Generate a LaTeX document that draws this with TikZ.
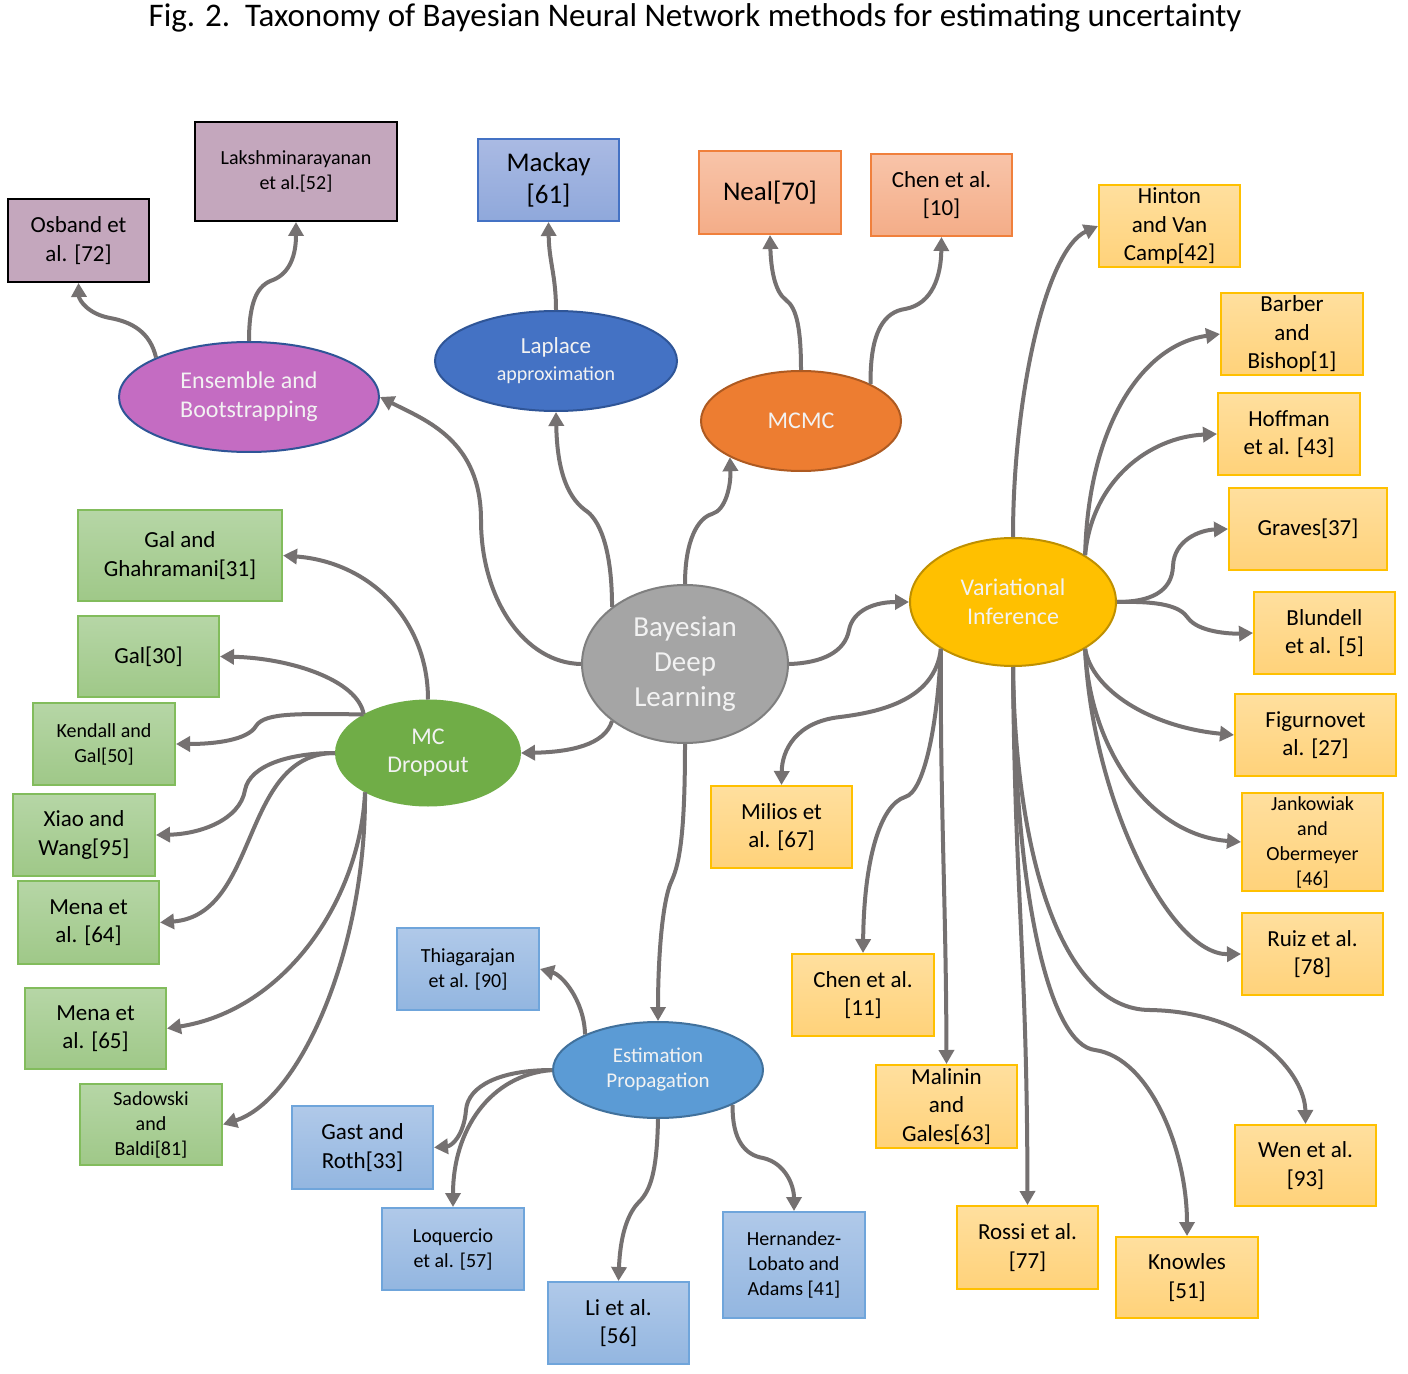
\documentclass[tikz,border=0pt]{standalone}
\usepackage{fontspec}
\setmainfont{Carlito}
\usetikzlibrary{arrows.meta,shapes.geometric}
\definecolor{arrowgray}{HTML}{757171}
\definecolor{bdlfill}{HTML}{A5A5A5}
\definecolor{bdldraw}{HTML}{7F7F7F}
\definecolor{ensfill}{HTML}{C46CC2}
\definecolor{ensdraw}{HTML}{2F5597}
\definecolor{lapfill}{HTML}{4472C4}
\definecolor{lapdraw}{HTML}{2F5597}
\definecolor{mcmcfill}{HTML}{ED7D31}
\definecolor{mcmcdraw}{HTML}{AE5A21}
\definecolor{vifill}{HTML}{FFC000}
\definecolor{vidraw}{HTML}{BF9000}
\definecolor{mcdfill}{HTML}{70AD47}
\definecolor{epfill}{HTML}{5B9BD5}
\definecolor{epdraw}{HTML}{41719C}
\definecolor{ellText}{HTML}{F2F2F2}
\definecolor{pfill}{HTML}{C4A7BD}
\definecolor{mactop}{HTML}{AABAE3}
\definecolor{macbot}{HTML}{8FA8DB}
\definecolor{saltop}{HTML}{F8C4A9}
\definecolor{salbot}{HTML}{F4AD88}
\definecolor{saldraw}{HTML}{F0803C}
\definecolor{yeltop}{HTML}{FFDF9E}
\definecolor{yelbot}{HTML}{FFD27A}
\definecolor{yeldraw}{HTML}{FFC000}
\definecolor{grntop}{HTML}{B6D6A6}
\definecolor{grnbot}{HTML}{9FC888}
\definecolor{grndraw}{HTML}{82BC5C}
\definecolor{blutop}{HTML}{B0C9E9}
\definecolor{blubot}{HTML}{93B6E0}
\definecolor{bludraw}{HTML}{6FA5DB}
\begin{document}
\begin{tikzpicture}[x=0.5pt,y=-0.5pt,
  conn/.style={draw=arrowgray,line width=2pt,-{Triangle[length=7pt,width=7.5pt]}},
  ell/.style={ellipse,inner sep=0pt,align=center,text=ellText,line width=1pt,font=\fontsize{12}{14.5}\selectfont},
  box/.style={rectangle,inner sep=0pt,align=center,line width=1pt,text=black,font=\fontsize{11.5}{14.25}\selectfont},
  sz/.style 2 args={minimum width=#1pt,minimum height=#2pt},
  sm/.style={font=\fontsize{10}{12.5}\selectfont},
  lg/.style={font=\fontsize{13.5}{16}\selectfont},
  pbox/.style={box,fill=pfill,draw=black},
  mbox/.style={box,top color=mactop,bottom color=macbot,draw=lapfill},
  sbox/.style={box,top color=saltop,bottom color=salbot,draw=saldraw},
  ybox/.style={box,top color=yeltop,bottom color=yelbot,draw=yeldraw},
  gbox/.style={box,top color=grntop,bottom color=grnbot,draw=grndraw},
  bbox/.style={box,top color=blutop,bottom color=blubot,draw=bludraw}
]
\fill[white] (0,0) rectangle (1408,1374);
\useasboundingbox (0,0) rectangle (1408,1374);

\node[font=\fontsize{16.5}{19}\selectfont] (cap) at (695,18) {Fig. 2.\ \ Taxonomy of Bayesian Neural Network methods for estimating uncertainty};

% ellipses
\node[ell,fill=bdlfill,draw=bdldraw,minimum width=103pt,minimum height=79pt,font=\fontsize{14.5}{17.5}\selectfont] (bdl) at (685,664) {Bayesian\\Deep\\Learning};
\node[ell,fill=ensfill,draw=ensdraw,minimum width=130pt,minimum height=55pt] (ens) at (249,397) {Ensemble and\\Bootstrapping};
\node[ell,fill=lapfill,draw=lapdraw,minimum width=121pt,minimum height=50pt,font=\fontsize{10}{13.5}\selectfont] (lap) at (556,361) {{\fontsize{11.5}{13.5}\selectfont Laplace}\\approximation};
\node[ell,fill=mcmcfill,draw=mcmcdraw,minimum width=100pt,minimum height=50pt] (mcmc) at (801,421) {MCMC};
\node[ell,fill=vifill,draw=vidraw,minimum width=103pt,minimum height=64pt] (vi) at (1013,602) {Variational\\Inference};
\node[ell,fill=mcdfill,draw=mcdfill,minimum width=92pt,minimum height=52.5pt,font=\fontsize{12}{14}\selectfont] (mcd) at (428,753) {MC\\Dropout};
\node[ell,fill=epfill,draw=epdraw,minimum width=105pt,minimum height=48pt,font=\fontsize{10.5}{12.5}\selectfont] (ep) at (658,1070) {Estimation\\Propagation};

% purple boxes
\node[pbox,sz={70.5}{41.5}] (osb) at (78.5,240.5) {Osband et\\al. [72]};
\node[pbox,sm,sz={101}{49.5}] (lak) at (296,171.5) {Lakshminarayanan\\et al.[52]};
% mackay
\node[mbox,lg,sz={70.5}{41}] (mac) at (548.5,180) {Mackay\\{}[61]};
% salmon
\node[sbox,lg,sz={71}{41.5}] (neal) at (770,192.5) {Neal[70]};
\node[sbox,sz={70.5}{41}] (che10) at (941.5,195) {Chen et al.\\{}[10]};
% yellow
\node[ybox,sz={70.5}{41}] (hin) at (1169.5,226) {Hinton\\and Van\\Camp[42]};
\node[ybox,sz={71}{41}] (bar) at (1292,334) {Barber\\and\\Bishop[1]};
\node[ybox,sz={71}{41}] (hof) at (1289,434) {Hoffman\\et al. [43]};
\node[ybox,sz={79}{41}] (gra) at (1308,529) {Graves[37]};
\node[ybox,sz={70.5}{41}] (blu) at (1324.5,633) {Blundell\\et al. [5]};
\node[ybox,sz={80.5}{41}] (fig) at (1315.5,735) {Figurnovet\\al. [27]};
\node[ybox,sm,sz={70.5}{49}] (jan) at (1312.5,842) {Jankowiak\\and\\Obermeyer\\{}[46]};
\node[ybox,sz={70.5}{41}] (rui) at (1312.5,954) {Ruiz et al.\\{}[78]};
\node[ybox,sz={70.5}{41}] (mil) at (781.5,827) {Milios et\\al. [67]};
\node[ybox,sz={71}{41}] (che11) at (863,995) {Chen et al.\\{}[11]};
\node[ybox,sz={70.5}{41.5}] (mal) at (946.5,1106.5) {Malinin\\and\\Gales[63]};
\node[ybox,sz={70.5}{41.5}] (ros) at (1027.5,1247.5) {Rossi et al.\\{}[77]};
\node[ybox,sz={71}{40.5}] (kno) at (1187,1277.5) {Knowles\\{}[51]};
\node[ybox,sz={70.5}{40.5}] (wen) at (1305.5,1165.5) {Wen et al.\\{}[93]};
% green
\node[gbox,sz={102}{45.5}] (gg) at (180,555.5) {Gal and\\Ghahramani[31]};
\node[gbox,sz={70.5}{40.5}] (gal) at (148.5,656.5) {Gal[30]};
\node[gbox,sm,sz={71}{41}] (ken) at (104,744) {Kendall and\\Gal[50]};
\node[gbox,sz={71}{41}] (xia) at (84,835) {Xiao and\\Wang[95]};
\node[gbox,sz={70.5}{41.5}] (m64) at (88.5,922.5) {Mena et\\al. [64]};
\node[gbox,sz={70.5}{40.5}] (m65) at (95.5,1028.5) {Mena et\\al. [65]};
\node[gbox,sm,sz={71}{40.5}] (sad) at (151,1124.5) {Sadowski\\and\\Baldi[81]};
% light blue
\node[bbox,sm,sz={71}{41}] (thi) at (468,969) {Thiagarajan\\et al. [90]};
\node[bbox,sz={70.5}{41.5}] (gas) at (362.5,1147.5) {Gast and\\Roth[33]};
\node[bbox,sm,sz={71}{41}] (loq) at (453,1249) {Loquercio\\et al. [57]};
\node[bbox,sz={70.5}{41}] (li) at (618.5,1323) {Li et al.\\{}[56]};
\node[bbox,sm,sz={71}{53}] (her) at (794,1265) {Hernandez-\\Lobato and\\Adams [41]};

% connectors from BDL
\draw[conn] (bdl.west) .. controls (525,663) and (481,600) .. (481,520) .. controls (481,440) and (425,420) .. (ens.east);
\draw[conn] (bdl.142) .. controls (612,545) and (598,518) .. (585,510) .. controls (565,495) and (557,465) .. (lap.south);
\draw[conn] (bdl.north) .. controls (685,540) and (698,518) .. (712,514) .. controls (726,510) and (731,485) .. (mcmc.207);
\draw[conn] (bdl.east) .. controls (822,663) and (845,652) .. (849,630) .. controls (853,610) and (875,602) .. (vi.west);
\draw[conn] (bdl.218) .. controls (605,745) and (570,752) .. (mcd.east);
\draw[conn] (bdl.south) .. controls (685,830) and (680,862) .. (672,880) .. controls (662,900) and (658,960) .. (ep.north);
% ensemble
\draw[conn] (ens.157) .. controls (150,332) and (132,322) .. (110,318) .. controls (88,314) and (79,300) .. (osb.south);
\draw[conn] (ens.north) .. controls (249,300) and (258,285) .. (273,280) .. controls (290,273) and (296,255) .. (lak.south);
% laplace
\draw[conn] (lap.north) .. controls (556,275) and (549,262) .. (mac.south);
% mcmc
\draw[conn] (mcmc.north) .. controls (801,330) and (797,308) .. (786,300) .. controls (775,292) and (771,270) .. (neal.south);
\draw[conn] (mcmc.28) .. controls (870,330) and (885,312) .. (905,309) .. controls (933,304) and (941,275) .. (che10.south);
% VI
\draw[conn] (vi.north) .. controls (1013,400) and (1045,250) .. (hin.west);
\draw[conn] (vi.33) .. controls (1088,430) and (1140,345) .. (bar.west);
\draw[conn] (vi.33) .. controls (1092,480) and (1150,437) .. (hof.west);
\draw[conn] (vi.east) .. controls (1150,602) and (1172,592) .. (1173,566) .. controls (1174,540) and (1200,530) .. (gra.west);
\draw[conn] (vi.east) .. controls (1160,601) and (1180,606) .. (1188,618) .. controls (1198,632) and (1230,634) .. (blu.west);
\draw[conn] (vi.327) .. controls (1092,690) and (1150,727) .. (fig.west);
\draw[conn] (vi.327) .. controls (1090,750) and (1150,835) .. (jan.west);
\draw[conn] (vi.327) .. controls (1092,800) and (1170,955) .. (rui.west);
\draw[conn] (vi.south) .. controls (1015,850) and (1060,1010) .. (1150,1010) .. controls (1255,1012) and (1305,1075) .. (wen.north);
\draw[conn] (vi.south) .. controls (1015,900) and (1050,1045) .. (1095,1050) .. controls (1150,1058) and (1187,1150) .. (kno.north);
\draw[conn] (vi.south) .. controls (1015,900) and (1027,950) .. (ros.north);
\draw[conn] (vi.213) .. controls (940,800) and (946,900) .. (mal.north);
\draw[conn] (vi.213) .. controls (938,720) and (925,792) .. (905,797) .. controls (880,805) and (864,860) .. (che11.north);
\draw[conn] (vi.213) .. controls (935,700) and (880,712) .. (840,717) .. controls (796,722) and (782,750) .. (mil.north);
% MC dropout
\draw[conn] (mcd.north) .. controls (428,620) and (370,562) .. (gg.east);
\draw[conn] (mcd.149) .. controls (358,680) and (290,658) .. (gal.east);
\draw[conn] (mcd.149) .. controls (300,714) and (265,712) .. (256,726) .. controls (248,740) and (215,744) .. (ken.east);
\draw[conn] (mcd.west) .. controls (290,753) and (250,765) .. (245,790) .. controls (240,820) and (200,834) .. (xia.east);
\draw[conn] (mcd.west) .. controls (240,753) and (260,915) .. (m64.east);
\draw[conn] (mcd.212) .. controls (360,900) and (285,1010) .. (m65.east);
\draw[conn] (mcd.212) .. controls (366,950) and (300,1100) .. (sad.east);
% EP
\draw[conn] (ep.154) .. controls (584,1000) and (562,975) .. (thi.east);
\draw[conn] (ep.west) .. controls (500,1070) and (468,1086) .. (466,1110) .. controls (464,1135) and (452,1146) .. (gas.east);
\draw[conn] (ep.west) .. controls (490,1075) and (453,1130) .. (loq.north);
\draw[conn] (ep.south) .. controls (657,1170) and (651,1190) .. (639,1202) .. controls (626,1215) and (620,1240) .. (li.north);
\draw[conn] (ep.335) .. controls (732,1140) and (745,1155) .. (763,1158) .. controls (785,1163) and (794,1185) .. (her.north);
\end{tikzpicture}
\end{document}
